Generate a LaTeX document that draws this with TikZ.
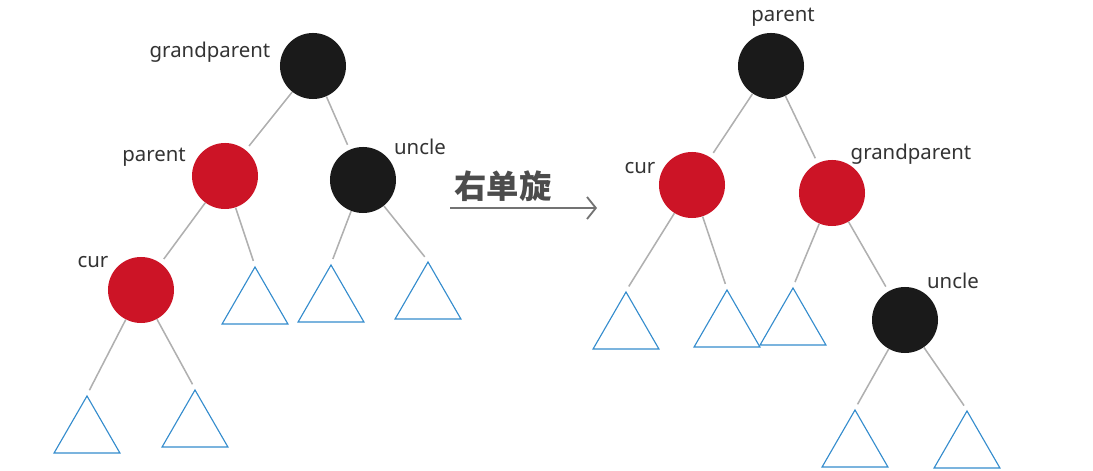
\documentclass[tikz,border=0pt]{standalone}
\usepackage{fontspec}
\setmainfont{Noto Sans}
\newfontfamily\cjk{Noto Sans CJK SC}
\usetikzlibrary{shapes.geometric,arrows.meta}

\definecolor{rbred}{RGB}{204,20,38}
\definecolor{rbblack}{RGB}{26,26,26}
\definecolor{subblue}{RGB}{52,140,205}
\definecolor{branchgray}{RGB}{176,176,176}

\begin{document}
\begin{tikzpicture}[x=0.025cm,y=-0.025cm]
 \tikzstyle{rednode}=[circle,fill=rbred,minimum size=1.65cm,inner sep=0]
 \tikzstyle{blacknode}=[circle,fill=rbblack,minimum size=1.65cm,inner sep=0]
 \tikzstyle{subtree}=[regular polygon,regular polygon sides=3,draw=subblue,line width=0.8pt,minimum size=1.9cm,inner sep=0]
 \tikzstyle{branch}=[draw=branchgray,line width=1.1pt,shorten >=0.13cm]
 \tikzstyle{tag}=[anchor=base,text=black!80,font=\fontsize{14.5}{16}\selectfont]

\useasboundingbox (0,0) rectangle (1093,471);

% before the rotation
\node[blacknode] (gp) at (313,66) {};
\node[rednode] (par) at (225,176) {};
\node[blacknode] (unc) at (363,180) {};
\node[rednode] (cur) at (141,290) {};
\node[subtree] (tp) at (255,305) {};
\node[subtree] (tu1) at (331,303) {};
\node[subtree] (tu2) at (428,300) {};
\node[subtree] (tc1) at (87,434) {};
\node[subtree] (tc2) at (195,428) {};

\node[tag] (lgp) at (210,58) {grandparent};
\node[tag] (lpar) at (154,162) {parent};
\node[tag] (lunc) at (420,155) {uncle};
\node[tag] (lcur) at (93,268) {cur};

\path[branch] (gp) edge (par);
\path[branch] (gp) edge (unc);
\path[branch] (par) edge (cur);
\path[branch] (par) edge (tp.corner 1);
\path[branch] (unc) edge (tu1.corner 1);
\path[branch] (unc) edge (tu2.corner 1);
\path[branch] (cur) edge (tc1.corner 1);
\path[branch] (cur) edge (tc2.corner 1);

% the rotation
\coordinate (rs) at (450,208);
\coordinate (re) at (597,208);
\draw[black!55,line width=1.3pt,-{Straight Barb[length=0.22cm,width=0.55cm]}] (rs) -- (re);
\node[text=black!70,font=\cjk\bfseries\fontsize{23}{26}\selectfont] (rot) at (503,186) {右单旋};

% after the rotation
\node[blacknode] (gp2) at (771,66) {};
\node[rednode] (cur2) at (692,185) {};
\node[rednode] (par2) at (832,193) {};
\node[blacknode] (unc2) at (905,320) {};
\node[subtree] (rc1) at (626,330) {};
\node[subtree] (rc2) at (727,328) {};
\node[subtree] (rg1) at (793,326) {};
\node[subtree] (ru1) at (855,448) {};
\node[subtree] (ru2) at (967,449) {};

\node[tag] (lgp2) at (783,22) {parent};
\node[tag] (lcur2) at (640,174) {cur};
\node[tag] (lpar2) at (911,160) {grandparent};
\node[tag] (lunc2) at (953,289) {uncle};

\path[branch] (gp2) edge (cur2);
\path[branch] (gp2) edge (par2);
\path[branch] (cur2) edge (rc1.corner 1);
\path[branch] (cur2) edge (rc2.corner 1);
\path[branch] (par2) edge (rg1.corner 1);
\path[branch] (par2) edge (unc2);
\path[branch] (unc2) edge (ru1.corner 1);
\path[branch] (unc2) edge (ru2.corner 1);

\end{tikzpicture}
\end{document}
